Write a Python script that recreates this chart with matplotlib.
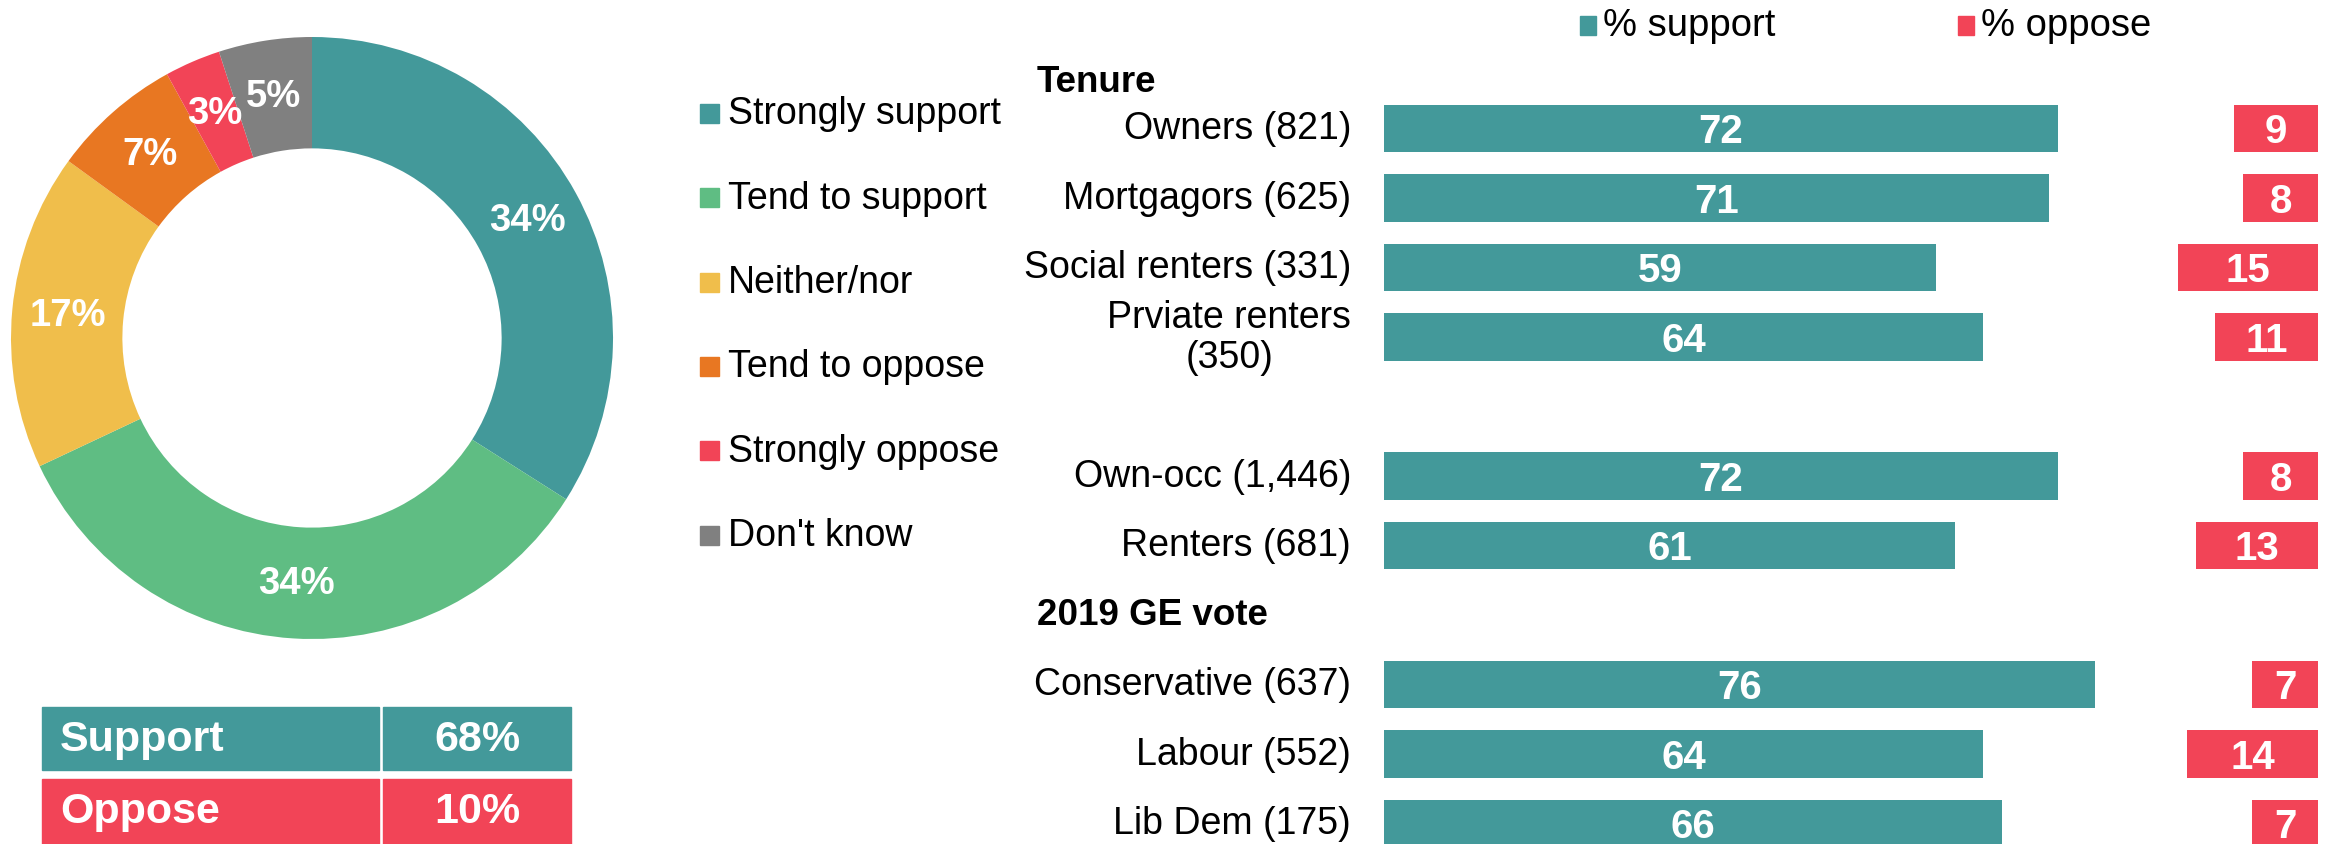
import matplotlib
matplotlib.use("Agg")
import matplotlib.pyplot as plt
from matplotlib.patches import Rectangle
from matplotlib.transforms import blended_transform_factory

plt.rcParams["font.family"] = ["Liberation Sans", "DejaVu Sans"]

# donut data
answer_labels = ["Strongly support", "Tend to support", "Neither/nor",
                 "Tend to oppose", "Strongly oppose", "Don't know"]
answer_pct = [34, 34, 17, 7, 3, 5]
answer_colors = ["#43999A", "#5FBD83", "#F0BE4B", "#E87722", "#F24457", "#808080"]

# summary table
summary_labels = ["Support", "Oppose"]
summary_pct = [68, 10]

# bar chart
groups = ["Owners (821)", "Mortgagors (625)", "Social renters (331)",
          "Prviate renters\n(350)", "Own-occ (1,446)", "Renters (681)",
          "Conservative (637)", "Labour (552)", "Lib Dem (175)"]
row_slot = [0, 1, 2, 3, 5, 6, 8, 9, 10]
support = [72, 71, 59, 64, 72, 61, 76, 64, 66]
oppose = [9, 8, 15, 11, 8, 13, 7, 14, 7]
section_titles = ["Tenure", "2019 GE vote"]
section_slot = [-0.68, 7.0]

TEAL = "#43999A"
RED = "#F24457"

W, H = 2333, 845
fig = plt.figure(figsize=(W / 100, H / 100), dpi=100)


def fx(px):
    return px / W


def fy(py):
    return 1 - py / H


# ---- donut ----
cx, cy, R = 312, 339, 301
pax = fig.add_axes([fx(cx - R), fy(cy + R), 2 * R / W, 2 * R / H])
wedges, texts, autotexts = pax.pie(
    answer_pct, colors=answer_colors, startangle=90, counterclock=False,
    wedgeprops=dict(width=0.37, edgecolor="none"),
    autopct=lambda p: f"{p:.0f}%", pctdistance=0.815,
)
for t in autotexts:
    t.set_color("white")
    t.set_fontsize(27.5)
    t.set_fontweight("bold")
pax.set_xlim(-1, 1)
pax.set_ylim(-1, 1)
pax.axis("off")

# ---- middle legend ----
for i, (lab, col) in enumerate(zip(answer_labels, answer_colors)):
    yc = 114.5 + 84.3 * i
    fig.patches.append(Rectangle((fx(700), fy(yc + 9.5)), 19 / W, 19 / H,
                                 transform=fig.transFigure, color=col))
    fig.text(fx(728), fy(yc), lab, fontsize=27, va="center", ha="left")

# ---- summary table ----
row_top = [708, 780]
row_h = [63, 70]
for lab, val, top, h, col in zip(summary_labels, summary_pct, row_top, row_h, [TEAL, RED]):
    fig.patches.append(Rectangle((fx(42), fy(top + h)), (379 - 42) / W, h / H,
                                 transform=fig.transFigure, color=col))
    fig.patches.append(Rectangle((fx(383), fy(top + h)), (571 - 383) / W, h / H,
                                 transform=fig.transFigure, color=col))
    yc = top + 32
    fig.text(fx(60), fy(yc), lab, fontsize=31, fontweight="bold", color="white",
             va="center", ha="left")
    fig.text(fx(477), fy(yc), f"{val}%", fontsize=31, fontweight="bold",
             color="white", va="center", ha="center")

# ---- bar chart ----
x0, x1, unit = 1384, 2318, 9.36
ax = fig.add_axes([fx(x0), 0, (x1 - x0) / W, 1])
xmax = (x1 - x0) / unit
slot0, slot_h = 129.5, 69.5
ax.set_xlim(0, xmax)
ax.set_ylim((H - slot0) / slot_h, -slot0 / slot_h)
ax.axis("off")

ax.barh(row_slot, support, height=0.68, color=TEAL)
opp_left = [xmax - v for v in oppose]
ax.barh(row_slot, oppose, left=opp_left, height=0.68, color=RED)

for y, s, o, l in zip(row_slot, support, oppose, opp_left):
    ax.text(s / 2, y + 0.04, str(s), color="white", fontsize=29, fontweight="bold",
            ha="center", va="center")
    ax.text(l + o / 2, y + 0.04, str(o), color="white", fontsize=29, fontweight="bold",
            ha="center", va="center")

lab_tr = blended_transform_factory(fig.transFigure, ax.transData)
for y, g in zip(row_slot, groups):
    ax.text(fx(1351), y, g, transform=lab_tr, fontsize=27, ha="right",
            va="center", multialignment="center", linespacing=1.12)
for y, t in zip(section_slot, section_titles):
    ax.text(fx(1037), y, t, transform=lab_tr, fontsize=26.5, fontweight="bold",
            ha="left", va="center")

# top legend
for px, lab, col in [(1580, "% support", TEAL), (1958, "% oppose", RED)]:
    fig.patches.append(Rectangle((fx(px), fy(36)), 16 / W, 19 / H,
                                 transform=fig.transFigure, color=col))
    fig.text(fx(px + 23), fy(26), lab, fontsize=27.5, va="center", ha="left")

fig.savefig("out.png", dpi=100, facecolor="white")
